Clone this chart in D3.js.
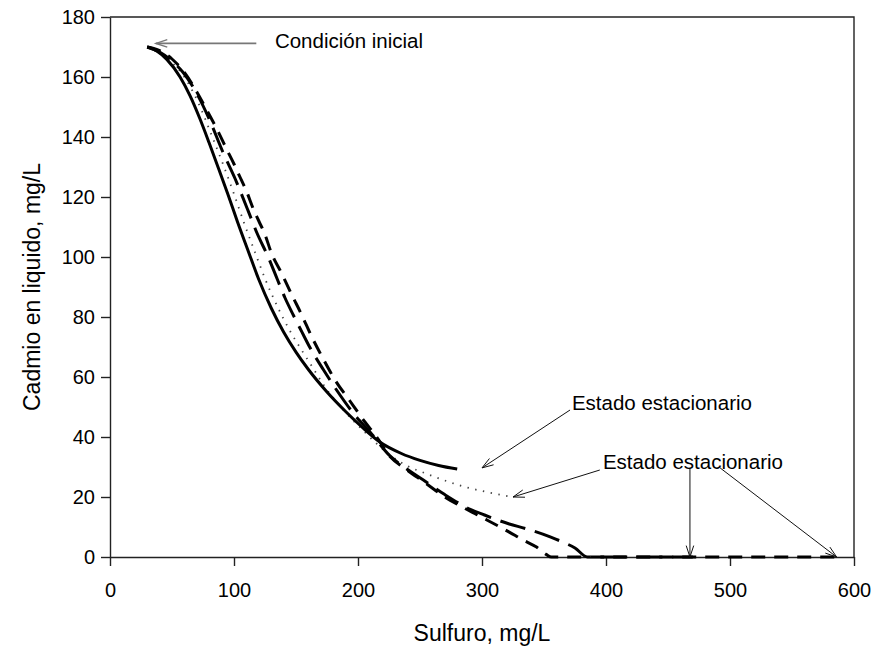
<!DOCTYPE html>
<html lang="es">
<head>
    <meta charset="UTF-8">
    <title>Cadmio vs sulfuro</title>
    <script src="https://d3js.org/d3.v7.min.js" charset="utf-8"></script>
    <style>
        body {
            margin: 0;
            background: #fff;
        }
        text {
            font-family: "Liberation Sans", Arial, sans-serif;
            fill: #000;
        }
        .tick line, .domain {
            stroke: #222;
            stroke-width: 1.4;
        }
        .tick text {
            font-size: 20px;
        }
        .title {
            font-size: 23px;
        }
        .note {
            font-size: 20.5px;
        }
    </style>
</head>
<body>
    <script>
        // values (sulfuro mg/L, cadmio mg/L)
        var xTicks = [0, 100, 200, 300, 400, 500, 600];
        var yTicks = [0, 20, 40, 60, 80, 100, 120, 140, 160, 180];

        var solidX = [30, 38, 46, 56.5, 64.5, 72.6, 80, 88, 95, 103, 111, 120, 130, 140, 150, 160, 175, 190, 204, 217, 235, 250, 265, 280];
        var solidY = [170, 168.6, 165.8, 160, 153.8, 146, 138, 129, 121, 111.5, 102.5, 92.5, 83, 75, 68.3, 62.5, 55, 48.5, 43, 38.5, 34.5, 32.2, 30.5, 29.3];

        var dottedX = [30, 45, 60, 70, 83, 92, 100, 108, 117, 125, 135, 145, 156, 164, 172, 184, 195, 205, 215, 225, 239, 255, 270, 285, 300, 325];
        var dottedY = [170, 166.5, 160, 152.5, 139.5, 130, 121, 111.5, 101.5, 92.8, 83.5, 75.5, 68, 62.8, 57.5, 51, 46, 41.8, 37.8, 34.2, 30.5, 27.8, 25.5, 23.5, 22, 20];

        var longDashX = [30, 40, 50, 59, 70, 80, 91, 101, 105, 111.5, 118, 128, 135, 141, 148, 156, 161, 172, 183, 198, 210, 226, 238, 255, 270, 290, 302, 322, 335, 355, 365, 375, 385, 470];
        var longDashY = [170, 168.3, 165.3, 161.5, 154.5, 146, 135, 126, 122, 115.3, 108.5, 99.6, 92.5, 86.5, 80.5, 74, 70, 62.5, 55.5, 47, 41.5, 33.6, 29.7, 25, 20.8, 16, 14, 11, 9.5, 6.7, 5, 3, 0, 0];

        var shortDashX = [30, 40, 50, 60, 70, 78, 87, 94, 100, 105, 110, 115.6, 120, 125, 130, 138.5, 146.5, 154.6, 162.6, 172, 181.5, 193.5, 205.6, 215, 226, 238, 255, 270, 285, 301, 322, 333, 344, 352, 356, 590];
        var shortDashY = [170, 168.8, 166, 161.5, 155, 149, 142, 136, 131, 126.5, 122, 116, 112, 107.5, 101.5, 94.5, 87.5, 80.7, 73.5, 66, 59, 52, 45, 40, 33.4, 29.5, 24.5, 20, 16.5, 13, 8.3, 5.7, 3.3, 0.8, 0, 0];

        // annotations, in data units: [x1, y1, x2 (tip), y2 (tip)]
        var noteTexts = ["Condición inicial", "Estado estacionario", "Estado estacionario"];
        var noteAt = [[133, 169.8], [372.5, 49], [397.5, 29.5]];
        var arrows = [
            [118, 171.2, 37, 171.2],
            [371, 49, 300, 29.7],
            [395, 29, 325, 20],
            [467.7, 29.7, 467.7, 0],
            [492, 29.7, 586, 0]
        ];

        var width = 874;
        var height = 648;
        var margin = {top: 17, right: 20, bottom: 91, left: 110};

        var svg = d3.select("body")
            .append("svg")
            .attr("width", width)
            .attr("height", height);

        var x = d3.scaleLinear()
            .domain([0, 600])
            .range([margin.left, width - margin.right]);

        var y = d3.scaleLinear()
            .domain([0, 180])
            .range([height - margin.bottom, margin.top]);

        // frame (top and right)
        svg.append("path")
            .attr("d", "M" + x(0) + "," + y(180) + "H" + x(600) + "V" + y(0))
            .attr("fill", "none")
            .attr("stroke", "#222")
            .attr("stroke-width", 1.4);

        svg.append("g")
            .attr("transform", "translate(0," + y(0) + ")")
            .call(d3.axisBottom(x).tickValues(xTicks).tickSize(9).tickPadding(17).tickSizeOuter(0));

        svg.append("g")
            .attr("transform", "translate(" + x(0) + ",0)")
            .call(d3.axisLeft(y).tickValues(yTicks).tickSize(9).tickPadding(6).tickSizeOuter(0));

        svg.append("text")
            .attr("class", "title")
            .attr("x", (x(0) + x(600)) / 2)
            .attr("y", 641)
            .attr("text-anchor", "middle")
            .text("Sulfuro, mg/L");

        svg.append("text")
            .attr("class", "title")
            .attr("transform", "translate(40," + (y(0) + y(180)) / 2 + ") rotate(-90)")
            .attr("text-anchor", "middle")
            .text("Cadmio en liquido, mg/L");

        var line = d3.line()
            .x(function(d) { return x(d[0]); })
            .y(function(d) { return y(d[1]); })
            .curve(d3.curveMonotoneX);

        function pairs(xs, ys) {
            return xs.map(function(v, i) { return [v, ys[i]]; });
        }

        var series = [
            {pts: pairs(dottedX, dottedY), color: "#444", w: 1.8, dash: "1.4,6.5"},
            {pts: pairs(shortDashX, shortDashY), color: "#000", w: 3, dash: "14,9"},
            {pts: pairs(longDashX, longDashY), color: "#000", w: 3, dash: "26,10"},
            {pts: pairs(solidX, solidY), color: "#000", w: 3, dash: null}
        ];

        svg.append("g").selectAll("path")
            .data(series)
            .enter()
            .append("path")
            .attr("fill", "none")
            .attr("stroke", function(d) { return d.color; })
            .attr("stroke-width", function(d) { return d.w; })
            .attr("stroke-dasharray", function(d) { return d.dash; })
            .attr("stroke-linecap", "butt")
            .attr("d", function(d) { return line(d.pts); });

        // arrows with open heads
        var notes = svg.append("g");
        arrows.forEach(function(a, i) {
            var x1 = x(a[0]), y1 = y(a[1]), x2 = x(a[2]), y2 = y(a[3]);
            var ang = Math.atan2(y2 - y1, x2 - x1);
            var len = 12, spread = 0.32;
            var col = i == 0 ? "#777" : "#111";
            var hx1 = x2 - len * Math.cos(ang - spread), hy1 = y2 - len * Math.sin(ang - spread);
            var hx2 = x2 - len * Math.cos(ang + spread), hy2 = y2 - len * Math.sin(ang + spread);
            notes.append("line")
                .attr("x1", x1).attr("y1", y1)
                .attr("x2", x2).attr("y2", y2)
                .attr("stroke", col)
                .attr("stroke-width", i == 0 ? 1.6 : 1);
            notes.append("path")
                .attr("d", "M" + hx1 + "," + hy1 + "L" + x2 + "," + y2 + "L" + hx2 + "," + hy2)
                .attr("fill", "none")
                .attr("stroke", col)
                .attr("stroke-width", i == 0 ? 1.4 : 1);
        });

        notes.selectAll("text")
            .data(noteTexts)
            .enter()
            .append("text")
            .attr("class", "note")
            .attr("x", function(d, i) { return x(noteAt[i][0]); })
            .attr("y", function(d, i) { return y(noteAt[i][1]); })
            .text(function(d) { return d; });
    </script>
</body>
</html>
